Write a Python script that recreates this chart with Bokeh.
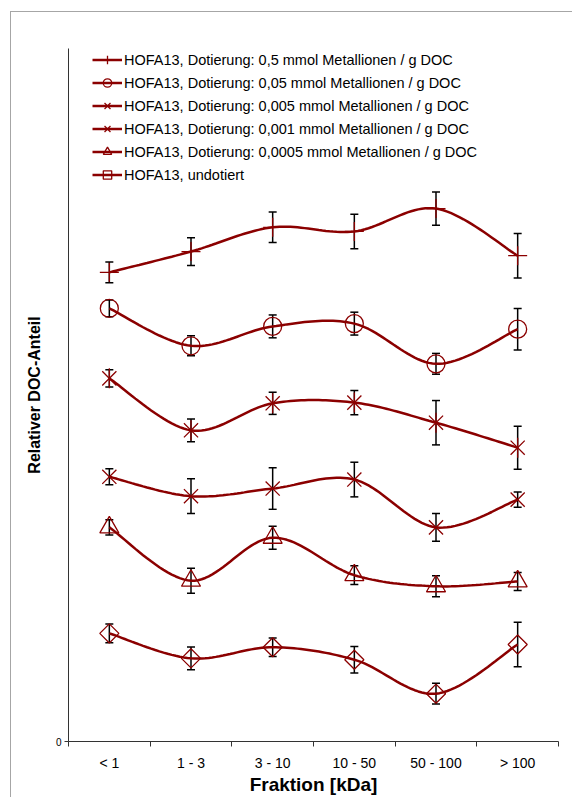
import numpy as np
from bokeh.plotting import figure
from bokeh.models import Range1d, FixedTicker, Legend, LegendItem
from bokeh.embed import file_html
from bokeh.resources import INLINE

# ---------------- data ----------------
categories = ["< 1", "1 - 3", "3 - 10", "10 - 50", "50 - 100", "> 100"]

labels = [
    "HOFA13, Dotierung: 0,5 mmol Metallionen / g DOC",
    "HOFA13, Dotierung: 0,05 mmol Metallionen / g DOC",
    "HOFA13, Dotierung: 0,005 mmol Metallionen / g DOC",
    "HOFA13, Dotierung: 0,001 mmol Metallionen / g DOC",
    "HOFA13, Dotierung: 0,0005 mmol Metallionen / g DOC",
    "HOFA13, undotiert",
]

val_05 = [67.7, 70.7, 74.2, 73.6, 76.9, 70.1]
err_05 = [1.5, 2.0, 2.2, 2.5, 2.4, 3.2]

val_005 = [62.5, 57.1, 59.9, 60.3, 54.5, 59.5]
err_005 = [1.2, 1.45, 1.65, 1.65, 1.5, 3.0]

val_0005 = [52.4, 44.9, 48.8, 48.9, 46.0, 42.4]
err_0005 = [1.25, 1.65, 1.6, 1.75, 3.2, 3.1]

val_0001 = [38.2, 35.4, 36.5, 37.8, 30.9, 34.9]
err_0001 = [1.15, 2.5, 3.0, 2.5, 2.0, 1.1]

val_00005 = [30.9, 23.2, 29.4, 24.0, 22.4, 23.1]
err_00005 = [1.1, 1.8, 1.65, 1.35, 1.5, 1.3]

val_undot = [15.6, 12.0, 13.6, 11.8, 6.9, 14.0]
err_undot = [1.35, 1.65, 1.35, 1.9, 1.5, 3.2]

y_ticks = [0]

# ---------------- helpers ----------------
RED = "#8B0000"
FONT = "Liberation Sans"


def smooth(xs, ys, n=24):
    """Excel-like smoothed line (Catmull-Rom Bezier) through the data points."""
    xs = np.asarray(xs, float)
    ys = np.asarray(ys, float)
    px = np.concatenate([[xs[0]], xs, [xs[-1]]])
    py = np.concatenate([[ys[0]], ys, [ys[-1]]])
    outx, outy = [], []
    t = np.linspace(0, 1, n)
    for i in range(1, len(px) - 2):
        p0 = np.array([px[i], py[i]])
        p1 = np.array([px[i + 1], py[i + 1]])
        c1 = p0 + (np.array([px[i + 1], py[i + 1]]) - np.array([px[i - 1], py[i - 1]])) / 6.0
        c2 = p1 - (np.array([px[i + 2], py[i + 2]]) - np.array([px[i], py[i]])) / 6.0
        b = ((1 - t) ** 3)[:, None] * p0 + (3 * (1 - t) ** 2 * t)[:, None] * c1 \
            + (3 * (1 - t) * t ** 2)[:, None] * c2 + (t ** 3)[:, None] * p1
        if i > 1:
            b = b[1:]
        outx.extend(b[:, 0])
        outy.extend(b[:, 1])
    return outx, outy


# ---------------- figure ----------------
p = figure(
    frame_width=490, frame_height=693,
    x_range=Range1d(0, len(categories)), y_range=Range1d(0, 100),
    output_backend="svg", toolbar_location=None,
    min_border_left=68, min_border_top=48, min_border_right=14, min_border_bottom=52,
    background_fill_color="white", border_fill_color="white", border_fill_alpha=0,
)
p.outline_line_color = None
p.xgrid.visible = False
p.ygrid.visible = False
# thin grey chart-area border (top and left edge visible, rest off-page)
p.styles = {
    "background-color": "white",
    "box-shadow": "inset 10px 11px 0 0 white, inset 11px 12px 0 0 #a6a6a6",
}

xpos = [i + 0.5 for i in range(len(categories))]

# x axis: labels at category centres, ticks at boundaries
xa = p.xaxis[0]
xa.ticker = FixedTicker(ticks=xpos, minor_ticks=list(range(len(categories) + 1)))
xa.major_label_overrides = {x: c for x, c in zip(xpos, categories)}
xa.major_tick_line_color = None
xa.major_tick_out = 0
xa.major_tick_in = 0
xa.minor_tick_out = 5
xa.minor_tick_in = 0
xa.minor_tick_line_color = "#333333"
xa.axis_line_color = "#333333"
xa.major_label_text_font = FONT
xa.major_label_text_font_size = "14px"
xa.major_label_text_color = "black"
xa.major_label_standoff = 8
xa.axis_label = "Fraktion [kDa]"
xa.axis_label_text_font = FONT
xa.axis_label_text_font_size = "19px"
xa.axis_label_text_font_style = "bold"
xa.axis_label_text_color = "black"
xa.axis_label_standoff = 0

ya = p.yaxis[0]
ya.ticker = FixedTicker(ticks=y_ticks, minor_ticks=[])
ya.major_tick_out = 4
ya.major_tick_in = 0
ya.major_tick_line_color = "#333333"
ya.axis_line_color = "#333333"
ya.major_label_text_font = FONT
ya.major_label_text_font_size = "10px"
ya.major_label_text_color = "black"
ya.major_label_standoff = 3
ya.axis_label = "Relativer DOC-Anteil"
ya.axis_label_text_font = FONT
ya.axis_label_text_font_size = "16px"
ya.axis_label_text_font_style = "bold"
ya.axis_label_text_color = "black"
ya.axis_label_standoff = 10

series = [
    (val_05, err_05, [("cross", 19, 0.0)]),
    (val_005, err_005, [("circle", 18, 0.0)]),
    (val_0005, err_0005, [("x", 20, 0.0), ("dash", 20, np.pi / 2)]),
    (val_0001, err_0001, [("x", 20, 0.0)]),
    (val_00005, err_00005, [("triangle", 19, 0.0)]),
    (val_undot, err_undot, [("square", 13.5, np.pi / 4)]),
]

items = []
for (vals, errs, markers), lab in zip(series, labels):
    lo = [v - e for v, e in zip(vals, errs)]
    hi = [v + e for v, e in zip(vals, errs)]
    # error bars
    p.segment(x0=xpos, y0=lo, x1=xpos, y1=hi, line_color="black", line_width=1.5)
    p.scatter(x=xpos, y=lo, marker="dash", size=8, line_color="black", line_width=1.5)
    p.scatter(x=xpos, y=hi, marker="dash", size=8, line_color="black", line_width=1.5)
    # smoothed line
    sx, sy = smooth(xpos, vals)
    lr = p.line(sx, sy, line_color=RED, line_width=2.5)
    rs = [lr]
    for m, s, a in markers:
        r = p.scatter(x=xpos, y=vals, marker=m, size=s, angle=a,
                      line_color=RED, fill_color=None, line_width=1.3)
        rs.append(r)
    items.append(LegendItem(label=lab, renderers=rs))

legend = Legend(
    items=items, location=(24, 556),
    label_text_font=FONT, label_text_font_size="14.5px", label_text_color="black",
    glyph_width=30, glyph_height=21, label_height=21, spacing=2,
    label_standoff=2, padding=0, margin=0,
    border_line_color=None, background_fill_alpha=0,
)
p.add_layout(legend, "center")

open("out.html", "w").write(file_html(p, INLINE))
